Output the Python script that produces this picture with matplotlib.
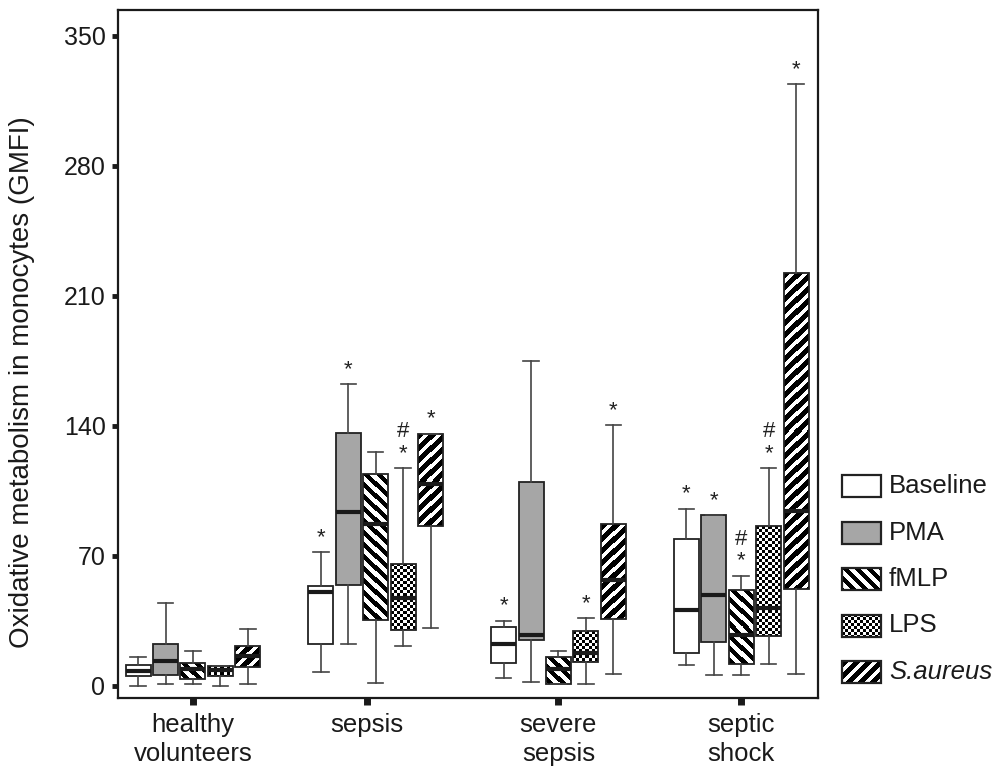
import numpy as np
import matplotlib
matplotlib.use("Agg")
from matplotlib import pyplot as plt
from matplotlib.patches import Rectangle

plt.rcParams['font.family'] = ['Liberation Sans', 'DejaVu Sans']

groups = ['healthy\nvolunteers', 'sepsis', 'severe\nsepsis', 'septic\nshock']
stimuli = ['Baseline', 'PMA', 'fMLP', 'LPS', 'S.aureus']

# box statistics: one row per group,
# columns = Baseline, PMA, fMLP, LPS, S.aureus
whislo = [[0.0, 0.9, 1.3, 0.0, 1.3],
          [7.7, 22.4, 1.4, 21.7, 31.4],
          [4.5, 2.3, 0.9, 1.3, 6.3],
          [11.5, 5.9, 5.9, 11.8, 6.5]]
q1 = [[5.2, 6.1, 3.6, 5.2, 10.1],
      [22.8, 54.4, 35.5, 30.0, 86.2],
      [12.6, 24.6, 0.9, 13.1, 36.3],
      [17.6, 23.5, 11.8, 26.9, 52.2]]
med = [[8.2, 13.6, 9.0, 8.6, 16.2],
       [50.8, 93.7, 87.2, 47.2, 108.8],
       [22.8, 27.6, 9.0, 17.6, 57.1],
       [40.8, 48.8, 27.5, 41.8, 94.4]]
q3 = [[11.3, 22.6, 12.6, 10.8, 21.5],
      [54.0, 136.0, 114.0, 65.9, 135.9],
      [31.9, 109.7, 15.6, 29.6, 87.2],
      [79.3, 92.0, 51.7, 86.0, 222.4]]
whishi = [[15.8, 44.5, 18.8, 10.8, 30.9],
          [72.0, 162.6, 126.2, 117.2, 135.9],
          [35.2, 175.0, 19.0, 36.4, 140.4],
          [95.5, 92.0, 59.4, 117.4, 324.0]]

# significance marks above the whiskers
marks = [['', '', '', '', ''],
         ['*', '*', '', '#\n*', '*'],
         ['*', '', '', '*', '*'],
         ['*', '*', '#\n*', '#\n*', '*']]

yticks = [0, 70, 140, 210, 280, 350]
tick_pos = [0, 0.95, 2, 3]

fills = ['white', '#a6a6a6', 'back', 'checker', 'fwd']

W, H = 1004, 774
left, right, top, bottom = 118, 818, 10, 698
xlim = (-0.41, 3.42)
ylim = (-6.5, 364)
px_x = (right - left) / (xlim[1] - xlim[0])
px_y = (bottom - top) / (ylim[1] - ylim[0])
bw = 0.137
step = 0.15


def texture(kind, w, h):
    i, j = np.mgrid[0:h, 0:w]
    if kind == 'checker':
        return ((i // 3 + j // 3) % 2).astype(float)
    if kind == 'back':
        return (((j - i) % 12) >= 6).astype(float)
    return (((i + j) % 12) >= 7).astype(float)


fig = plt.figure(figsize=(W / 100, H / 100), dpi=100)
ax = fig.add_axes([left / W, 1 - bottom / H, (right - left) / W, (bottom - top) / H])

for k in range(len(stimuli)):
    stats = [dict(med=med[g][k], q1=q1[g][k], q3=q3[g][k],
                  whislo=whislo[g][k], whishi=whishi[g][k], fliers=[])
             for g in range(len(groups))]
    pos = np.arange(len(groups)) + (k - 2) * step
    textured = fills[k] in ('back', 'checker', 'fwd')
    face = 'none' if textured else fills[k]
    art = ax.bxp(stats, positions=pos, widths=bw, capwidths=0.085,
                 patch_artist=True, showfliers=False, manage_ticks=False,
                 boxprops=dict(facecolor=face, edgecolor='#222222', linewidth=1.3),
                 medianprops=dict(color='#1a1a1a', linewidth=3, solid_capstyle='butt'),
                 whiskerprops=dict(color='#444444', linewidth=1.2),
                 capprops=dict(color='#444444', linewidth=1.2))
    if textured:
        for box, s, p in zip(art['boxes'], stats, pos):
            w = int(round(bw * px_x))
            h = max(1, int(round((s['q3'] - s['q1']) * px_y)))
            im = ax.imshow(texture(fills[k], w, h), cmap='gray', vmin=0, vmax=1,
                           extent=[p - bw / 2, p + bw / 2, s['q1'], s['q3']],
                           origin='upper', interpolation='nearest', aspect='auto',
                           zorder=1.9)
            im.set_clip_path(box)
    for g, p in enumerate(pos):
        if marks[g][k]:
            ax.annotate(marks[g][k], (p, whishi[g][k]), xytext=(0, 3),
                        textcoords='offset points', ha='center', va='bottom',
                        fontsize=16, linespacing=1.05, color='#222222')

ax.set_xlim(*xlim)
ax.set_ylim(*ylim)
ax.set_yticks(yticks)
ax.set_xticks(tick_pos)
ax.set_xticklabels(groups, fontsize=18.5, linespacing=1.25)
ax.tick_params(axis='y', direction='out', length=4, width=3.5, labelsize=18, pad=5,
               color='#1a1a1a', labelcolor='#1a1a1a')
ax.tick_params(axis='x', direction='out', length=5, width=5, pad=6,
               color='#1a1a1a', labelcolor='#1a1a1a')
for sp in ax.spines.values():
    sp.set_linewidth(1.6)
    sp.set_color('#1a1a1a')

fig.text(22 / W, 1 - 382 / H, 'Oxidative metabolism in monocytes (GMFI)',
         rotation=90, ha='center', va='center', fontsize=20, color='#1a1a1a')

# legend drawn in figure pixel space so the textures match the boxes
lax = fig.add_axes([0, 0, 1, 1])
lax.set_xlim(0, W)
lax.set_ylim(H, 0)
lax.axis('off')
for k, name in enumerate(stimuli):
    yc = 486 + 46.5 * k
    textured = fills[k] in ('back', 'checker', 'fwd')
    if textured:
        lax.imshow(texture(fills[k], 39, 22), cmap='gray', vmin=0, vmax=1,
                   extent=[842, 881, yc + 11, yc - 11], origin='upper',
                   interpolation='nearest', aspect='auto')
    lax.add_patch(Rectangle((842, yc - 11), 39, 22,
                            facecolor='none' if textured else fills[k],
                            edgecolor='#222222', linewidth=1.6))
    lax.text(889, yc, name, va='center', ha='left', fontsize=18.5, color='#1a1a1a',
             style='italic' if name == 'S.aureus' else 'normal')
lax.set_xlim(0, W)
lax.set_ylim(H, 0)

fig.savefig('out.png', dpi=100)
